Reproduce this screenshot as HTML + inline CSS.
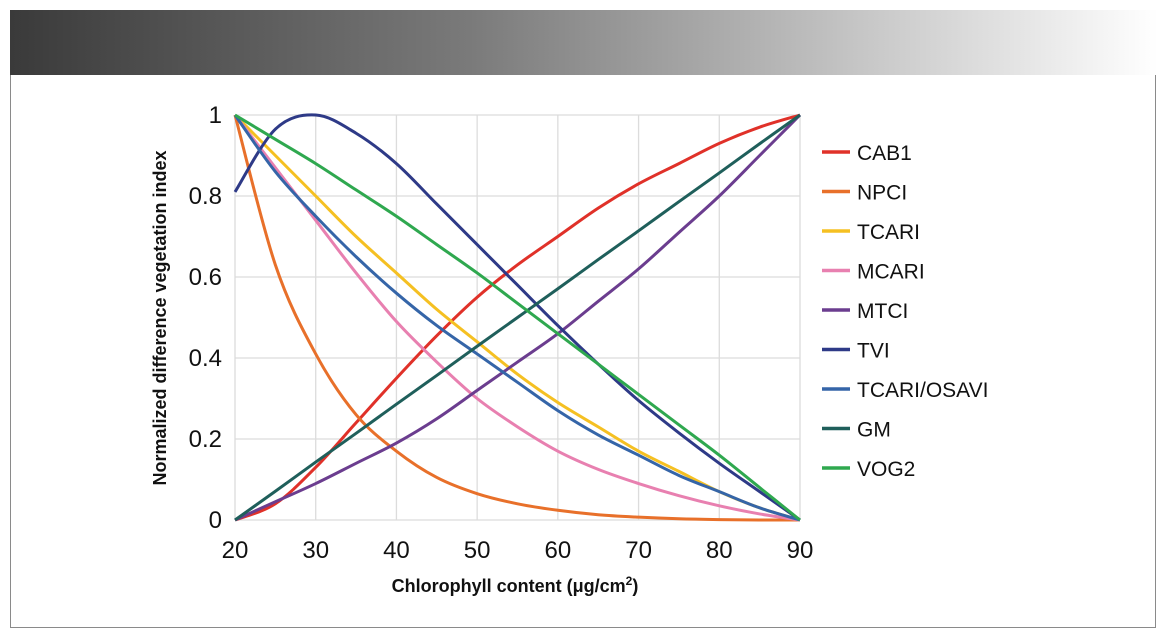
<!DOCTYPE html>
<html><head><meta charset="utf-8"><style>
body{margin:0;background:#fff;width:1168px;height:640px;overflow:hidden;font-family:"Liberation Sans",sans-serif}
#frame{position:absolute;left:10px;top:10px;width:1146px;height:618px;border:1px solid #8a8a8a;box-sizing:border-box}
#hdr{position:absolute;left:10px;top:10px;width:1148px;height:65px;background:linear-gradient(90deg,#3a3a3a 0%,#7a7a7a 40%,#c8c8c8 75%,#fff 100%)}
</style></head><body>
<div id="frame"></div>
<div id="hdr"></div>
<svg id="chart" width="1168" height="640" style="position:absolute;left:0;top:0"></svg>
<script>
const xs=[20,25,30,35,40,45,50,55,60,65,70,75,80,85,90];
const xTicks=[20,30,40,50,60,70,80,90];
const yTicks=[0,0.2,0.4,0.6,0.8,1];
const yTickLabels=["0","0.2","0.4","0.6","0.8","1"];
const names=["CAB1","NPCI","TCARI","MCARI","MTCI","TVI","TCARI/OSAVI","GM","VOG2"];
const colors=["#e03129","#e8702a","#f5c022","#e880b0","#6b3d8f","#2e3a87","#3565a8","#1f5f5b","#2fa84f"];
const cab1=[0,0.04,0.13,0.24,0.35,0.455,0.55,0.63,0.70,0.77,0.83,0.88,0.93,0.97,1];
const npci=[1,0.63,0.41,0.26,0.17,0.105,0.065,0.04,0.024,0.013,0.007,0.003,0.001,0,0];
const tcari=[1,0.9,0.8,0.7,0.61,0.52,0.44,0.36,0.29,0.23,0.17,0.12,0.07,0.03,0];
const mcari=[1,0.87,0.74,0.61,0.49,0.39,0.30,0.23,0.17,0.125,0.09,0.06,0.035,0.015,0];
const mtci=[0,0.045,0.09,0.14,0.19,0.25,0.32,0.39,0.46,0.54,0.62,0.71,0.8,0.9,1];
const tvi=[0.81,0.965,1.0,0.955,0.88,0.78,0.68,0.58,0.48,0.385,0.295,0.215,0.14,0.07,0];
const tcariOsavi=[1,0.86,0.75,0.65,0.56,0.48,0.41,0.34,0.27,0.21,0.16,0.11,0.07,0.03,0];
const gm=[0,0.071,0.143,0.214,0.286,0.357,0.429,0.5,0.571,0.643,0.714,0.786,0.857,0.929,1];
const vog2=[1,0.94,0.88,0.815,0.75,0.68,0.61,0.535,0.46,0.385,0.31,0.235,0.16,0.08,0];
const series=[cab1,npci,tcari,mcari,mtci,tvi,tcariOsavi,gm,vog2];

const NS="http://www.w3.org/2000/svg";
const svg=document.getElementById('chart');
const X=v=>235+(v-20)*(800-235)/70;
const Y=v=>520-v*(520-115);
function mk(tag,attrs,parent){const e=document.createElementNS(NS,tag);for(const k in attrs)e.setAttribute(k,attrs[k]);(parent||svg).appendChild(e);return e;}
xTicks.forEach(t=>{const l=mk('line',{x1:X(t),x2:X(t),y1:Y(0),y2:Y(1),stroke:'#dcdcdc','stroke-width':1.3});


const tx=mk('text',{x:X(t),y:558,'text-anchor':'middle','font-size':24,fill:'#111'});tx.textContent=t;

});
yTicks.forEach((t,i)=>{const l=mk('line',{x1:X(20),x2:X(90),y1:Y(t),y2:Y(t),stroke:'#dcdcdc','stroke-width':1.3});


const tx=mk('text',{x:222,y:Y(t)+8,'text-anchor':'end','font-size':24,fill:'#111'});tx.textContent=yTickLabels[i];

});
function pathFor(d){const p=xs.map((x,i)=>[X(x),Y(d[i])]);let s=`M${p[0][0]},${p[0][1]}`;
for(let i=0;i<p.length-1;i++){const p0=p[i-1]||p[i],p1=p[i],p2=p[i+1],p3=p[i+2]||p2;
s+=` C${p1[0]+(p2[0]-p0[0])/6},${p1[1]+(p2[1]-p0[1])/6} ${p2[0]-(p3[0]-p1[0])/6},${p2[1]-(p3[1]-p1[1])/6} ${p2[0]},${p2[1]}`;}return s;}
series.forEach((d,i)=>{const p=mk('path',{d:pathFor(d),fill:'none',stroke:colors[i],'stroke-width':3});


const ly=152+i*39.5;
const g=mk('g',{});


mk('line',{x1:822,x2:850,y1:ly,y2:ly,stroke:colors[i],'stroke-width':3.5},g);
const t=mk('text',{x:857,y:ly+8,'font-size':21,fill:'#111'},g);t.textContent=names[i];});
const xt=mk('text',{x:515,y:592,'text-anchor':'middle','font-size':18,'font-weight':'bold',fill:'#111'});xt.innerHTML='Chlorophyll content (μg/cm<tspan dy="-7" font-size="12">2</tspan><tspan dy="7">)</tspan>';


const yt=mk('text',{x:0,y:0,'text-anchor':'middle','font-size':18,'font-weight':'bold',fill:'#111',transform:'translate(166,318) rotate(-90)'});yt.textContent='Normalized difference vegetation index';


</script>
</body></html>
